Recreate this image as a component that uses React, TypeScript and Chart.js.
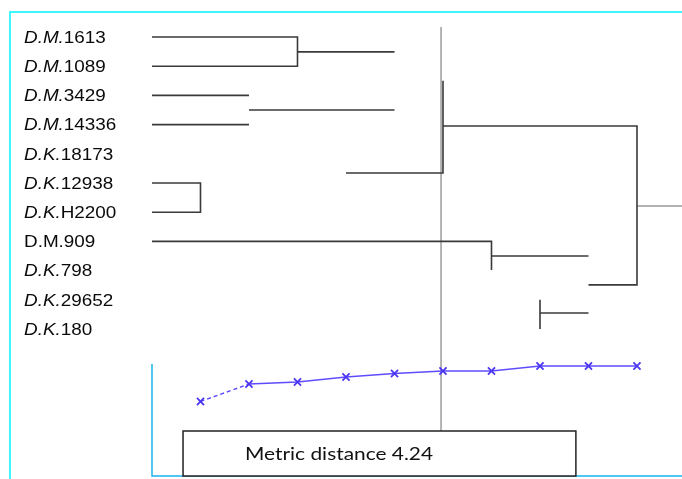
import React, { useEffect, useRef } from "react";
import { Chart, registerables } from "chart.js";

Chart.register(...registerables);

// ---- data ----
const labelPrefixes = ["D.M.", "D.M.", "D.M.", "D.M.", "D.K.", "D.K.", "D.K.", "D.M.", "D.K.", "D.K.", "D.K."];
const labelIds = ["1613", "1089", "3429", "14336", "18173", "12938", "H2200", "909", "798", "29652", "180"];
const prefixItalic = [true, true, true, true, true, true, true, false, true, true, true];

// dendrogram branches: [distance, row] polylines
const branches: [number, number][][] = [
  [[0, 0], [3, 0], [3, 1], [0, 1]],
  [[3, 0.51], [5, 0.51]],
  [[0, 2], [2, 2]],
  [[0, 3], [2, 3]],
  [[2, 2.5], [5, 2.5]],
  [[0, 5], [1, 5], [1, 6], [0, 6]],
  [[0, 7], [7, 7], [7, 7.98]],
  [[7, 7.5], [9, 7.5]],
  [[4, 4.66], [6, 4.66], [6, 1.5]],
  [[6, 3.05], [10, 3.05], [10, 8.49], [9, 8.49]],
  [[8, 9], [8, 10]],
  [[8, 9.45], [9, 9.45]],
];
const rootStub: [number, number][] = [[10, 5.79], [10.93, 5.79]];
const cutDistance = 5.96;
const cutRows = [-0.34, 13.5];

// similarity profile (lower panel)
const stepX = [1, 2, 3, 4, 5, 6, 7, 8, 9, 10];
const stepValues = [7.45, 9.2, 9.4, 9.9, 10.25, 10.5, 10.5, 11.0, 11.0, 11.0];
const panelTop = 11.2;
const boxX = [0.64, 8.74];
const boxY = [0, 4.5];
const boxText = "Metric distance 4.24";

const toPts = (a: [number, number][]) => a.map(([x, y]) => ({ x, y }));

export default function App() {
  const ref = useRef<HTMLCanvasElement>(null);
  useEffect(() => {
    const canvas = ref.current!;
    const datasets: any[] = [];
    branches.forEach((b) =>
      datasets.push({
        data: toPts(b),
        yAxisID: "y",
        borderColor: "#3a3a3a",
        borderWidth: 1.6,
        pointRadius: 0,
        fill: false,
        tension: 0,
        order: 1,
      })
    );
    datasets.push({
      data: toPts(rootStub),
      yAxisID: "y",
      borderColor: "#9a9a9a",
      borderWidth: 1.5,
      pointRadius: 0,
      order: 1,
    });
    datasets.push({
      data: cutRows.map((r) => ({ x: cutDistance, y: r })),
      yAxisID: "y",
      borderColor: "#9c9c9c",
      borderWidth: 1.5,
      pointRadius: 0,
      order: 5,
    });
    datasets.push({
      data: [
        { x: 0, y: panelTop },
        { x: 0, y: 0 },
        { x: 10.93, y: 0 },
      ],
      yAxisID: "y2",
      borderColor: "#19b4f0",
      borderWidth: 1.5,
      pointRadius: 0,
      order: 4,
    });
    datasets.push({
      data: stepX.map((x, i) => ({ x, y: stepValues[i] })),
      yAxisID: "y2",
      borderColor: "#5f4cff",
      borderWidth: 1.5,
      pointStyle: "crossRot",
      pointRadius: 5,
      pointBorderWidth: 1.8,
      pointBorderColor: "#4a36f2",
      segment: {
        borderDash: (c: any) => (c.p0DataIndex === 0 ? [4, 3] : undefined),
      },
      order: 0,
    });

    const decor = {
      id: "decor",
      beforeDatasetsDraw(chart: any) {
        const ctx = chart.ctx;
        ctx.save();
        ctx.strokeStyle = "#3ff8ff";
        ctx.lineWidth = 2;
        ctx.beginPath();
        ctx.moveTo(10, chart.height);
        ctx.lineTo(10, 12);
        ctx.lineTo(chart.width, 12);
        ctx.stroke();
        ctx.restore();
      },
      afterDatasetsDraw(chart: any) {
        const ctx = chart.ctx;
        const { x, y, y2 } = chart.scales;
        ctx.save();
        // labels
        ctx.fillStyle = "#0a0a0a";
        ctx.textBaseline = "alphabetic";
        labelIds.forEach((id, i) => {
          const py = y.getPixelForValue(i) + 5.8;
          ctx.save();
          ctx.translate(24, py);
          ctx.scale(1.18, 1);
          ctx.font = (prefixItalic[i] ? "italic " : "") + "16px 'Liberation Sans', Arial, sans-serif";
          ctx.fillText(labelPrefixes[i], 0, 0);
          const w = ctx.measureText(labelPrefixes[i]).width;
          ctx.font = "16px 'Liberation Sans', Arial, sans-serif";
          ctx.fillText(id, w, 0);
          ctx.restore();
        });
        // box
        const l = x.getPixelForValue(boxX[0]);
        const r = x.getPixelForValue(boxX[1]);
        const t = y2.getPixelForValue(boxY[1]);
        const b = y2.getPixelForValue(boxY[0]);
        ctx.fillStyle = "#fff";
        ctx.fillRect(l, t, r - l, b - t);
        ctx.strokeStyle = "#222";
        ctx.lineWidth = 1.5;
        ctx.strokeRect(l, t, r - l, b - t);
        ctx.fillStyle = "#111";
        ctx.font = "17px Lato, 'Open Sans', sans-serif";
        ctx.textBaseline = "middle";
        const tw = ctx.measureText(boxText).width;
        ctx.save();
        ctx.translate(l + 62, (t + b) / 2 + 1);
        ctx.scale(188 / tw, 1);
        ctx.fillText(boxText, 0, 0);
        ctx.restore();
        ctx.restore();
      },
    };

    const chart = new Chart(canvas, {
      type: "line",
      data: { datasets },
      options: {
        animation: false,
        responsive: true,
        maintainAspectRatio: false,
        layout: { padding: 0, autoPadding: false },
        plugins: { legend: { display: false }, tooltip: { enabled: false } },
        scales: {
          x: { type: "linear", min: -3.134, max: 10.928, display: false },
          y: { type: "linear", reverse: true, min: -1.267, max: 15.137, display: false },
          y2: { type: "linear", min: -0.3, max: 47.6, display: false },
        },
      },
      plugins: [decor],
    });
    return () => chart.destroy();
  }, []);
  return (
    <div style={{ position: "fixed", left: 0, top: 0, width: 682, height: 479, background: "#fff" }}>
      <canvas ref={ref} />
    </div>
  );
}
